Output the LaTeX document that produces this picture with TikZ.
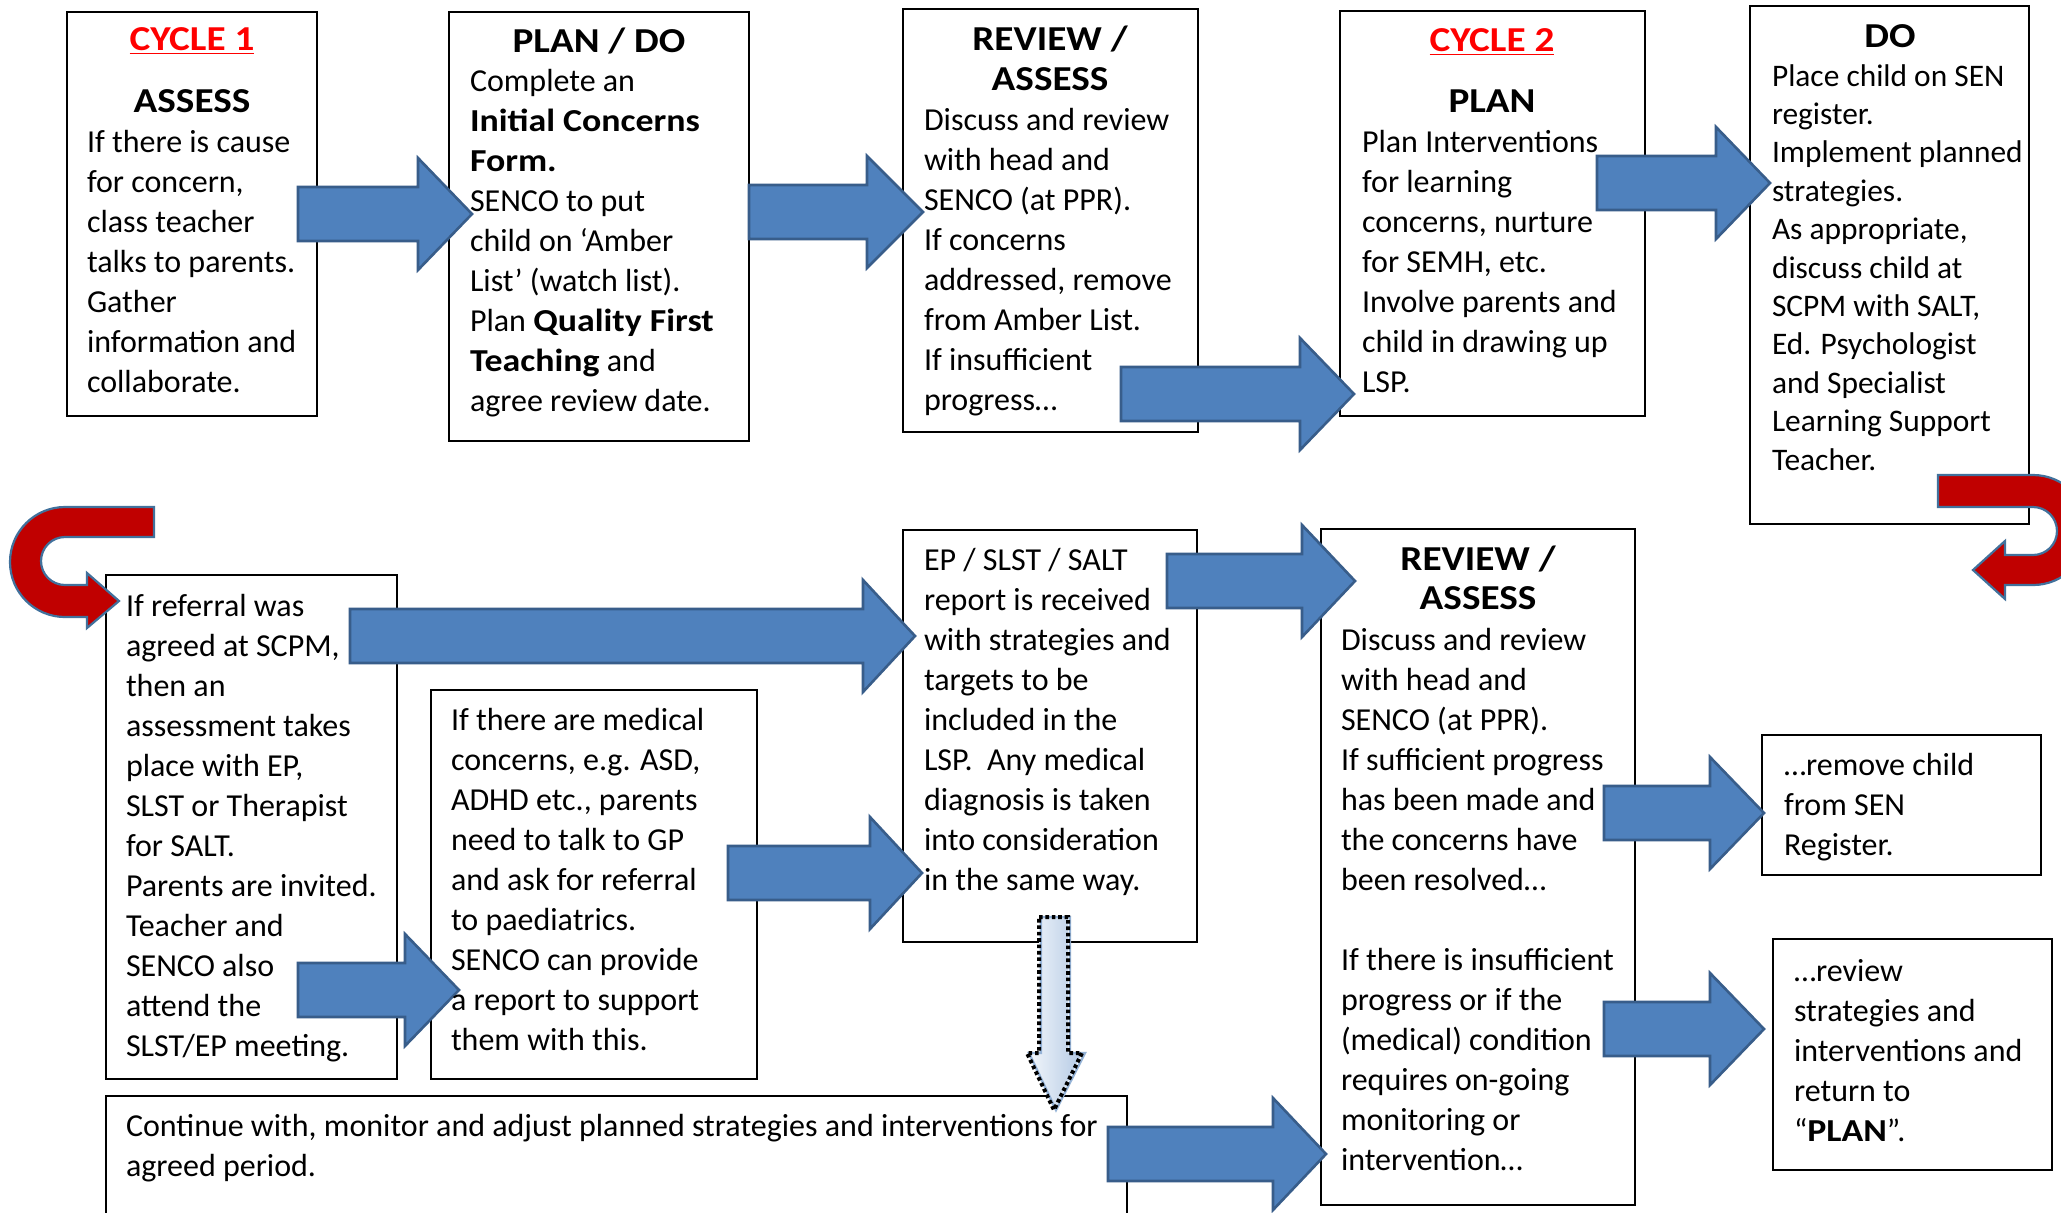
\documentclass[tikz,border=0pt]{standalone}
\usepackage{fontspec}
\setmainfont{Carlito}[BoldFeatures={FakeStretch=1.12}]
\definecolor{arrowblue}{HTML}{4F81BD}
\definecolor{arrowedge}{HTML}{385D8A}
\definecolor{uturnred}{HTML}{C00000}
\definecolor{uturnedge}{HTML}{41719C}
\definecolor{cyclered}{HTML}{FF0000}
\definecolor{dotfillA}{HTML}{F4F8FC}
\definecolor{dotfillB}{HTML}{B4C9E4}
\definecolor{dotedge}{HTML}{95B3D7}
\newcommand\fl{\rule{0pt}{14pt}}
\newcommand\barrow[4]{%
  \filldraw[blockarrow] (#1,#4-27) -- (#2,#4-27) -- (#2,#4-56) -- (#3,#4) -- (#2,#4+56) -- (#2,#4+27) -- (#1,#4+27) -- cycle;}
\newcommand\boxnode[5]{%
  \node[box, minimum width={(#4-#2)*0.5pt}, minimum height={(#5-#3)*0.5pt}] (#1) at ({(#2+#4)/2},{(#3+#5)/2}) {};}
\begin{document}
\begin{tikzpicture}[x=0.5pt,y=-0.5pt,
  box/.style={draw=black, line width=0.9pt, fill=white, inner sep=0pt, outer sep=0pt},
  txt/.style={anchor=north west, inner sep=0pt, outer sep=0pt, align=left, font=\fontsize{16}{20}\selectfont},
  txtE/.style={txt, font=\fontsize{15.7}{19.2}\selectfont},
  head/.style={anchor=base, inner sep=0pt, outer sep=0pt, font=\bfseries\fontsize{17.5}{20}\selectfont},
  cyc/.style={head, text=cyclered},
  blockarrow/.style={fill=arrowblue, draw=arrowedge, line width=1.3pt, line join=miter},
  uturn/.style={fill=uturnred, draw=uturnedge, line width=1.1pt, line join=miter},
]
\clip (0,0) rectangle (2061,1212);
\fill[white] (0,0) rectangle (2061,1212);

% boxes
\boxnode{A}{67}{12}{317}{416}
\boxnode{B}{449}{12}{749}{441}
\boxnode{C}{903}{9}{1198}{432}
\boxnode{D}{1340}{11}{1645}{416}
\boxnode{E}{1750}{6}{2029}{524}
\boxnode{F}{106}{575}{397}{1079}
\boxnode{G}{431}{690}{757}{1079}
\boxnode{H}{903}{530}{1197}{942}
\boxnode{I}{106}{1096}{1127}{1260}
\boxnode{J}{1321}{529}{1635}{1205}
\boxnode{K}{1762}{735}{2041}{875}
\boxnode{L}{1773}{939}{2052}{1170}

% block arrows
\barrow{298}{418}{472}{214}
\barrow{749}{867}{923}{212}
\barrow{1121}{1300}{1354}{394}
\barrow{1597}{1716}{1770}{183}
\barrow{350}{863}{915}{636}
\barrow{298}{405}{459}{990}
\barrow{728}{870}{922}{873}
\barrow{1167}{1302}{1355}{581}
\barrow{1604}{1710}{1764}{813}
\barrow{1604}{1710}{1764}{1029}
\barrow{1108}{1273}{1326}{1154}

% red U-turn arrows
\filldraw[uturn] (1938,475) -- (2033,475) arc[start angle=-90, end angle=90, radius=55]
  -- (2005,585) -- (2005,599) -- (1973,570) -- (2005,541) -- (2005,555) -- (2033,555)
  arc[start angle=90, end angle=-90, radius=24] -- (1938,507) -- cycle;
\filldraw[uturn] (154,507) -- (65,507) arc[start angle=270, end angle=90, radius=55]
  -- (87,617) -- (87,628) -- (119,601) -- (87,573) -- (87,585) -- (65,585)
  arc[start angle=90, end angle=270, radius=24] -- (154,537) -- cycle;

% dotted down arrow
\shade[left color=dotfillA, right color=dotfillB] (1039,917) -- (1068,917) -- (1068,1053) -- (1082,1053) -- (1054,1110) -- (1027,1053) -- (1039,1053) -- cycle;
\draw[dotedge, line width=1.2pt] (1041,917) -- (1070,917) -- (1070,1053) -- (1085,1053) -- (1056,1110) -- (1029,1053) -- (1041,1053) -- cycle;
\draw[black, line width=2pt, dash pattern=on 1.8pt off 1.4pt] (1039,917) -- (1068,917) -- (1068,1053) -- (1082,1053) -- (1054,1110) -- (1027,1053) -- (1039,1053) -- cycle;

% texts
\node[cyc] (hA1) at (192,50) {\underline{CYCLE 1}};
\node[head] (hA2) at (192,112) {ASSESS};
\node[txt] (tA) at (87,124) {\fl If there is cause\\for concern,\\class teacher\\talks to parents.\\Gather\\information and\\collaborate.};

\node[head] (hB) at (599,52) {PLAN / DO};
\node[txt] (tB) at (470,63) {\fl Complete an\\\textbf{Initial Concerns}\\\textbf{Form.}\\SENCO to put\\child on ‘Amber\\List’ (watch list).\\Plan \textbf{Quality First}\\\textbf{Teaching} and\\agree review date.};

\node[head] (hC1) at (1050,50) {REVIEW /};
\node[head] (hC2) at (1050,90) {ASSESS};
\node[txt] (tC) at (924,102) {\fl Discuss and review\\with head and\\SENCO (at PPR).\\If concerns\\addressed, remove\\from Amber List.\\If insufficient\\progress…};

\node[cyc] (hD1) at (1492,51) {\underline{CYCLE 2}};
\node[head] (hD2) at (1492,112) {PLAN};
\node[txt] (tD) at (1362,124) {\fl Plan Interventions\\for learning\\concerns, nurture\\for SEMH, etc.\\Involve parents and\\child in drawing up\\LSP.};

\node[head] (hE) at (1890,47) {DO};
\node[txtE] (tE) at (1772,58) {\fl Place child on SEN\\register.\\Implement planned\\strategies.\\As appropriate,\\discuss child at\\SCPM with SALT,\\Ed. Psychologist\\and Specialist\\Learning Support\\Teacher.};

\node[txt] (tF) at (126,588) {\fl If referral was\\agreed at SCPM,\\then an\\assessment takes\\place with EP,\\SLST or Therapist\\for SALT.\\Parents are invited.\\Teacher and\\SENCO also\\attend the\\SLST/EP meeting.};

\node[txt] (tG) at (451,702) {\fl If there are medical\\concerns, e.g. ASD,\\ADHD etc., parents\\need to talk to GP\\and ask for referral\\to paediatrics.\\SENCO can provide\\a report to support\\them with this.};

\node[txt] (tH) at (924,542) {\fl EP / SLST / SALT\\report is received\\with strategies and\\targets to be\\included in the\\LSP.~~Any medical\\diagnosis is taken\\into consideration\\in the same way.};

\node[txt] (tI) at (126,1108) {\fl Continue with, monitor and adjust planned strategies and interventions for\\agreed period.};

\node[head] (hJ1) at (1478,570) {REVIEW /};
\node[head] (hJ2) at (1478,609) {ASSESS};
\node[txt] (tJ) at (1341,622) {\fl Discuss and review\\with head and\\SENCO (at PPR).\\If sufficient progress\\has been made and\\the concerns have\\been resolved…\\[20pt]If there is insufficient\\progress or if the\\(medical) condition\\requires on-going\\monitoring or\\intervention…};

\node[txt] (tK) at (1784,747) {\fl …remove child\\from SEN\\Register.};
\node[txt] (tL) at (1794,953) {\fl …review\\strategies and\\interventions and\\return to\\“\textbf{PLAN}”.};
\end{tikzpicture}
\end{document}
